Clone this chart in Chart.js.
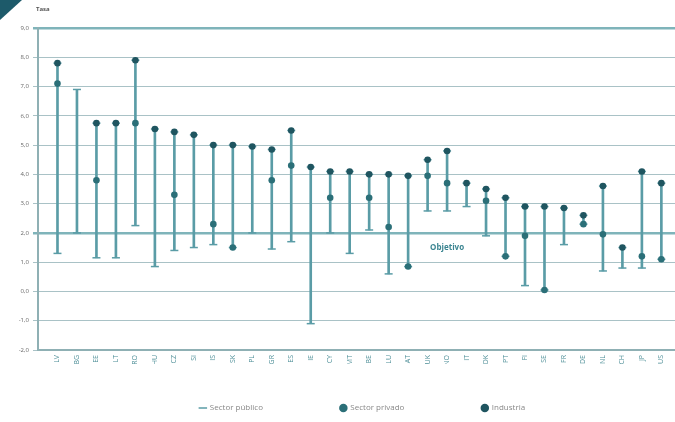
<!DOCTYPE html>
<html>
<head>
<meta charset="utf-8">
<script src="https://cdn.jsdelivr.net/npm/chart.js@4"></script>
<style>
  html, body { margin: 0; padding: 0; background: #ffffff; }
  #wrap { width: 675px; height: 422px; }
</style>
</head>
<body>
<div id="wrap"><canvas id="chart"></canvas></div>
<script>
const countries = ["LV", "BG", "EE", "LT", "RO", "HU", "CZ", "SI", "IS", "SK",
  "PL", "GR", "ES", "IE", "CY", "MT", "BE", "LU", "AT", "UK", "NO", "IT",
  "DK", "PT", "FI", "SE", "FR", "DE", "NL", "CH", "JP", "US"];

// rango (línea vertical)
const rangeLow = [1.3, 2.0, 1.15, 1.15, 2.25, 0.85, 1.4, 1.5, 1.6, 1.5,
  2.0, 1.45, 1.7, -1.1, 2.0, 1.3, 2.1, 0.6, 0.85, 2.75, 2.75, 2.9,
  1.9, 1.2, 0.2, 0.05, 1.6, 2.3, 0.7, 0.8, 0.8, 1.1];
const rangeHigh = [7.8, 6.9, 5.75, 5.75, 7.9, 5.55, 5.45, 5.35, 5.0, 5.0,
  4.95, 4.85, 5.5, 4.25, 4.1, 4.1, 4.0, 4.0, 3.95, 4.5, 4.8, 3.7,
  3.5, 3.2, 2.9, 2.9, 2.85, 2.6, 3.6, 1.5, 4.1, 3.7];
const privado = [7.1, null, 3.8, null, 5.75, null, 3.3, null, 2.3, 1.5,
  null, 3.8, 4.3, null, 3.2, null, 3.2, 2.2, 0.85, 3.95, 3.7, null,
  3.1, 1.2, 1.9, 0.05, null, 2.3, 1.95, null, 1.2, 1.1];
const industria = [7.8, null, 5.75, 5.75, 7.9, 5.55, 5.45, 5.35, 5.0, 5.0,
  4.95, 4.85, 5.5, 4.25, 4.1, 4.1, 4.0, 4.0, 3.95, 4.5, 4.8, 3.7,
  3.5, 3.2, 2.9, 2.9, 2.85, 2.6, 3.6, 1.5, 4.1, 3.7];

const yTicksMin = -2;
const yTicksMax = 9;
const targetValue = 2;
const targetLabel = "Objetivo";
const legendNames = ["Sector público", "Sector privado", "Industria"];

// countries sit at x = 1..32 on a linear axis
const xy = arr => arr.map((v, i) => ({ x: i + 1, y: v }));
const ranges = rangeLow.map((lo, i) => ({ x: i + 1, y: [lo, rangeHigh[i]] }));

const lineCol = "#5a9ca6";
const dotCol = "#2b6f78";
const dotCol2 = "#1f5560";

const extras = {
  id: "extras",
  afterDraw(chart) {
    const ctx = chart.ctx;
    const x = chart.scales.x;
    const y = chart.scales.y;
    ctx.save();
    // corner mark
    ctx.fillStyle = "#1d5a6a";
    ctx.beginPath();
    ctx.moveTo(0, 0); ctx.lineTo(22, 0); ctx.lineTo(0, 20);
    ctx.closePath(); ctx.fill();
    // axis title
    ctx.fillStyle = "#555";
    ctx.font = "bold 6px 'Open Sans'";
    ctx.textAlign = "left";
    ctx.textBaseline = "middle";
    ctx.fillText("Tasa", y.right - 2, 9);
    // target label
    ctx.fillStyle = "#3b8591";
    ctx.font = "bold 8px 'Open Sans'";
    ctx.textAlign = "center";
    ctx.fillText(targetLabel, x.getPixelForValue(21), y.getPixelForValue(1.5));
    ctx.restore();
  }
};

new Chart(document.getElementById("chart"), {
  data: {
    datasets: [
      {
        type: "bar",
        label: "rango",
        data: ranges,
        backgroundColor: lineCol,
        barThickness: 2,
        order: 5
      },
      {
        type: "line",
        label: legendNames[0],
        data: xy(rangeLow),
        showLine: false,
        pointStyle: "line",
        pointRadius: 4,
        borderWidth: 1.5,
        borderColor: lineCol,
        backgroundColor: lineCol,
        order: 4
      },
      {
        type: "line",
        label: "tope",
        data: xy(rangeHigh),
        showLine: false,
        pointStyle: "line",
        pointRadius: 4,
        borderWidth: 1.5,
        borderColor: lineCol,
        backgroundColor: lineCol,
        order: 3
      },
      {
        type: "line",
        label: legendNames[1],
        data: xy(privado),
        showLine: false,
        pointRadius: 3.3,
        borderWidth: 0,
        backgroundColor: dotCol,
        borderColor: dotCol,
        order: 2
      },
      {
        type: "line",
        label: legendNames[2],
        data: xy(industria),
        showLine: false,
        pointRadius: 3.3,
        borderWidth: 0,
        backgroundColor: dotCol2,
        borderColor: dotCol2,
        order: 1
      }
    ]
  },
  options: {
    responsive: true,
    maintainAspectRatio: false,
    animation: false,
    layout: { autoPadding: false, padding: { top: 28, right: 0, bottom: 0, left: 0 } },
    plugins: {
      tooltip: { enabled: false },
      legend: {
        position: "bottom",
        labels: {
          usePointStyle: true,
          boxWidth: 6,
          boxHeight: 6,
          padding: 40,
          color: "#888",
          font: { size: 8, family: "'Open Sans'" },
          generateLabels(chart) {
            const items = Chart.defaults.plugins.legend.labels.generateLabels(chart)
              .filter(it => legendNames.includes(it.text))
              .sort((a, b) => legendNames.indexOf(a.text) - legendNames.indexOf(b.text));
            items.forEach((it, i) => { if (i < 2) it.text = it.text + "                  "; });
            // empty spacer so the group sits a little right of centre
            items.unshift({ text: "", fillStyle: "rgba(0,0,0,0)", strokeStyle: "rgba(0,0,0,0)",
              lineWidth: 0, pointStyle: "circle", hidden: false, datasetIndex: -1 });
            return items;
          }
        }
      }
    },
    scales: {
      x: {
        type: "linear",
        offset: false,
        min: 0,
        max: 32.7,
        grid: { display: false, drawTicks: true, tickLength: 3 },
        border: { color: "#8fb0b4", width: 2 },
        ticks: {
          stepSize: 1,
          minRotation: 90,
          maxRotation: 90,
          autoSkip: false,
          padding: 2,
          color: "#4e8f98",
          font: { size: 7, family: "'Open Sans'" },
          callback: v => countries[v - 1] || ""
        },
        afterFit(scale) {
          scale.height = 14;
          scale.paddingLeft = 0;
          scale.paddingRight = 0;
        }
      },
      y: {
        min: yTicksMin,
        max: yTicksMax,
        grid: {
          tickLength: 5,
          color: ctx => (ctx.tick && (ctx.tick.value === targetValue || ctx.tick.value === yTicksMax)) ? "#7fb4ba" : "#a9c2c6",
          lineWidth: ctx => (ctx.tick && (ctx.tick.value === targetValue || ctx.tick.value === yTicksMax)) ? 2.5 : 1
        },
        border: { color: "#8fb0b4", width: 2 },
        ticks: {
          stepSize: 1,
          padding: 4,
          color: "#666",
          font: { size: 6, family: "'Open Sans'" },
          callback: v => v.toFixed(1).replace(".", ",")
        },
        afterFit(scale) { scale.width = 38; }
      }
    }
  },
  plugins: [extras]
});
</script>
</body>
</html>
